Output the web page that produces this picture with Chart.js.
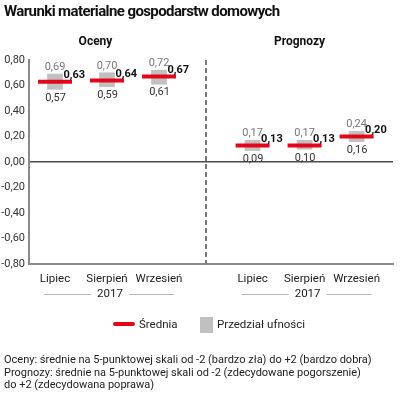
<!DOCTYPE html>
<html>
<head>
<meta charset="utf-8">
<script src="https://cdn.jsdelivr.net/npm/chart.js@4"></script>
<style>
  html, body { margin:0; padding:0; background:#fff; }
  #wrap { position:relative; width:400px; height:399px; overflow:hidden; font-family: Roboto, "Noto Sans", sans-serif; color:#222; }
  #title { position:absolute; left:4px; top:2px; font-weight:bold; font-size:15px; letter-spacing:-0.6px; color:#111; white-space:nowrap; }
  canvas { position:absolute; left:0; top:0; }
  .leg { position:absolute; font-size:11.5px; color:#222; white-space:nowrap; }
  #foot { position:absolute; left:4px; top:354px; font-size:11px; line-height:12.5px; color:#222; white-space:nowrap; }
</style>
</head>
<body>
<div id="wrap">
  <canvas id="c" width="400" height="399"></canvas>
  <div id="title">Warunki materialne gospodarstw domowych</div>
  <div class="leg" style="left:113px;top:322px;width:22px;height:4px;background:#e3061a;border-radius:2px;"></div>
  <div class="leg" id="l1" style="left:139px;top:317px;">Średnia</div>
  <div class="leg" style="left:200px;top:317px;width:13px;height:16px;background:#c0c0c0;"></div>
  <div class="leg" id="l2" style="left:217px;top:317px;">Przedział ufności</div>
  <div id="foot">Oceny: średnie na 5-punktowej skali od -2 (bardzo zła) do +2 (bardzo dobra)<br>Prognozy: średnie na 5-punktowej skali od -2 (zdecydowane pogorszenie)<br>do +2 (zdecydowana poprawa)</div>
</div>
<script>
// ---- data ----
const categories = ['Lipiec', 'Sierpień', 'Wrzesień'];
const groupNames = ['Oceny', 'Prognozy'];
const yearLabel = '2017';
const ocenyMean = [0.63, 0.64, 0.67];
const ocenyLow  = [0.57, 0.59, 0.61];
const ocenyHigh = [0.69, 0.70, 0.72];
const prognozyMean = [0.13, 0.13, 0.20];
const prognozyLow  = [0.09, 0.10, 0.16];
const prognozyHigh = [0.17, 0.17, 0.24];
const yMin = -0.8, yMax = 0.8, yStep = 0.2;

// ---- layout (positions of groups on linear x scale) ----
const groupStart = [0, 3.8];
const dividerX = 2.9;

const means = [ocenyMean, prognozyMean];
const lows = [ocenyLow, prognozyLow];
const highs = [ocenyHigh, prognozyHigh];

const barData = [], meanData = [], xPos = [], xLab = [];
groupStart.forEach((g, gi) => {
  categories.forEach((c, ci) => {
    const x = g + ci;
    xPos.push(x); xLab.push(c);
    barData.push({ x: x, y: [lows[gi][ci], highs[gi][ci]] });
    meanData.push({ x: x, y: means[gi][ci] });
  });
});

const fmt = v => v.toFixed(2).replace('.', ',');
const FONT = 'Roboto, "Noto Sans", sans-serif';

const extras = {
  id: 'extras',
  beforeDatasetsDraw(chart) {
    const { ctx, chartArea: a, scales: { x, y } } = chart;
    ctx.save();
    ctx.strokeStyle = '#7a7a7a';
    ctx.lineWidth = 2;
    ctx.setLineDash([5, 3]);
    const dx = Math.round(x.getPixelForValue(dividerX));
    ctx.beginPath(); ctx.moveTo(dx, a.top); ctx.lineTo(dx, a.bottom); ctx.stroke();
    ctx.restore();
  },
  afterDatasetsDraw(chart) {
    const { ctx, chartArea: a, scales: { x, y } } = chart;
    ctx.save();
    ctx.textBaseline = 'middle';
    groupStart.forEach((g, gi) => {
      categories.forEach((c, ci) => {
        const px = x.getPixelForValue(g + ci);
        const yh = y.getPixelForValue(highs[gi][ci]);
        const yl = y.getPixelForValue(lows[gi][ci]);
        const ym = y.getPixelForValue(means[gi][ci]);
        ctx.font = '11px ' + FONT;
        ctx.textAlign = 'center';
        ctx.fillStyle = '#777';
        ctx.fillText(fmt(highs[gi][ci]), px, yh - 7);
        ctx.fillStyle = '#333';
        ctx.fillText(fmt(lows[gi][ci]), px + 0.5, yl + 8.5);
        ctx.font = 'bold 11px ' + FONT;
        ctx.textAlign = 'left';
        ctx.fillStyle = '#111';
        ctx.fillText(fmt(means[gi][ci]), px + 8.5, ym - 6.5);
      });
      // group header
      const p0 = x.getPixelForValue(g), p2 = x.getPixelForValue(g + 2);
      const mid = (p0 + p2) / 2;
      ctx.font = 'bold 12px ' + FONT;
      ctx.textAlign = 'center';
      ctx.fillStyle = '#111';
      ctx.fillText(groupNames[gi], mid - (gi === 0 ? 11.5 : 5), 42);
      // year label with lines
      ctx.font = '11.5px ' + FONT;
      ctx.fillStyle = '#222';
      const yc = mid + 3;
      ctx.fillText(yearLabel, yc, 294);
      const w = ctx.measureText(yearLabel).width;
      ctx.strokeStyle = '#b5b5b5';
      ctx.lineWidth = 1;
      ctx.beginPath();
      ctx.moveTo(p0 - 11, 294.5); ctx.lineTo(yc - w / 2 - 6, 294.5);
      ctx.moveTo(yc + w / 2 + 6, 294.5); ctx.lineTo(p2 + 15, 294.5);
      ctx.stroke();
    });
    ctx.restore();
  }
};

new Chart(document.getElementById('c'), {
  type: 'bar',
  data: {
    datasets: [
      {
        type: 'scatter',
        label: 'Średnia',
        data: meanData,
        pointStyle: 'line',
        pointRadius: 17,
        pointHoverRadius: 17,
        borderColor: '#e3061a',
        backgroundColor: '#e3061a',
        pointBorderWidth: 4,
        borderWidth: 4,
        clip: false,
        order: 0
      },
      {
        type: 'bar',
        label: 'Przedział ufności',
        data: barData,
        backgroundColor: '#c0c0c0',
        barThickness: 15,
        borderWidth: 0,
        borderSkipped: false,
        order: 1
      }
    ]
  },
  options: {
    responsive: false,
    animation: false,
    events: [],
    layout: { autoPadding: false, padding: { top: 60, right: 7, bottom: 105, left: 0 } },
    plugins: { legend: { display: false }, tooltip: { enabled: false } },
    scales: {
      x: {
        type: 'linear',
        min: -0.5, max: 6.5,
        offset: false,
        afterBuildTicks: s => { s.ticks = xPos.map(v => ({ value: v })); },
        afterFit: s => { s.height = 30; },
        ticks: {
          autoSkip: false,
          maxRotation: 0,
          padding: 8,
          font: { size: 11.5, family: FONT },
          color: '#222',
          callback: (v, i) => xLab[i]
        },
        grid: { display: false, drawTicks: false },
        border: { display: true, color: '#8a8a8a', width: 2 }
      },
      y: {
        min: yMin, max: yMax,
        afterFit: s => { s.width = 29; },
        afterBuildTicks: s => {
          const t = [];
          for (let v = yMin; v <= yMax + 1e-9; v += yStep) t.push({ value: Math.round(v * 100) / 100 });
          s.ticks = t;
        },
        ticks: {
          padding: 4,
          font: { size: 11, family: FONT },
          color: '#333',
          callback: v => fmt(v)
        },
        grid: {
          drawTicks: false,
          color: c => (c.tick && c.tick.value === 0) ? '#4a4a4a' : 'rgba(0,0,0,0)',
          lineWidth: c => (c.tick && c.tick.value === 0) ? 1.5 : 0
        },
        border: { display: true, color: '#8a8a8a', width: 2 }
      }
    }
  },
  plugins: [extras]
});
</script>
</body>
</html>
